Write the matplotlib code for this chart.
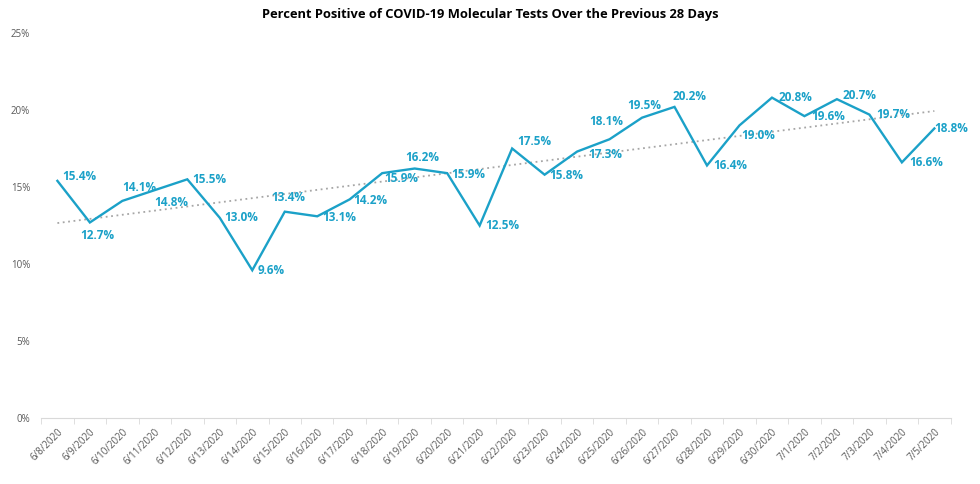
import numpy as np
import matplotlib.pyplot as plt
from matplotlib.ticker import FuncFormatter

plt.rcParams['font.family'] = ['Open Sans', 'DejaVu Sans']

# data
dates = ['6/8/2020', '6/9/2020', '6/10/2020', '6/11/2020', '6/12/2020', '6/13/2020',
         '6/14/2020', '6/15/2020', '6/16/2020', '6/17/2020', '6/18/2020', '6/19/2020',
         '6/20/2020', '6/21/2020', '6/22/2020', '6/23/2020', '6/24/2020', '6/25/2020',
         '6/26/2020', '6/27/2020', '6/28/2020', '6/29/2020', '6/30/2020', '7/1/2020',
         '7/2/2020', '7/3/2020', '7/4/2020', '7/5/2020']
pct = [15.4, 12.7, 14.1, 14.8, 15.5, 13.0, 9.6, 13.4, 13.1, 14.2, 15.9, 16.2, 15.9, 12.5,
       17.5, 15.8, 17.3, 18.1, 19.5, 20.2, 16.4, 19.0, 20.8, 19.6, 20.7, 19.7, 16.6, 18.8]

# data label offsets (pixels from the point to the label centre)
lab_dx = [22, 7, 17, 16, 22, 21, 19, 4, 22, 21, 19, 8, 21, 23,
          22, 22, 28, -3, 2, 15, 23, 19, 23, 24, 23, 24, 24, 17]
lab_dy = [4, -13, 13, -12, 0, 0, 0, 14, -1, -1, -5, 11, -1, 0,
          7, -1, -3, 18, 12, 10, 0, -10, 0, 0, 4, 0, 0, 0]

blue = '#1BA1C8'
x = np.arange(len(dates))

fig = plt.figure(figsize=(9.8, 4.84), dpi=100)
ax = fig.add_axes([0.042, 0.136, 0.928, 0.796])

ax.plot(x, pct, color=blue, lw=1.7, solid_joinstyle='miter', zorder=3)

# linear trendline
k, b = np.polyfit(x, pct, 1)
ax.plot(x, k * x + b, color='#a6a6a6', lw=1.3, ls=(0, (1, 2)), zorder=2)

for xi, yi, dx, dy in zip(x, pct, lab_dx, lab_dy):
    ax.annotate(f'{yi:.1f}%', (xi, yi), xytext=(dx, dy), textcoords='offset pixels',
                ha='center', va='center', color=blue, fontsize=8.5,
                fontweight='bold', zorder=4)

ax.set_xlim(-0.5, len(dates) - 0.5)
ax.set_ylim(0, 25)
ax.set_yticks([0, 5, 10, 15, 20, 25])
ax.yaxis.set_major_formatter(FuncFormatter(lambda v, _: f'{v:.0f}%'))
ax.set_xticks(x)
ax.set_xticklabels(dates, rotation=45, ha='right', rotation_mode='anchor')
ax.set_xticks(np.arange(-0.5, len(dates)), minor=True)

ax.tick_params(axis='y', length=0, labelsize=7, labelcolor='#595959', pad=8)
ax.tick_params(axis='x', which='major', length=0, labelsize=7, labelcolor='#595959', pad=6)
ax.tick_params(axis='x', which='minor', length=4, color='#d9d9d9', direction='out')

for s in ['top', 'right', 'left']:
    ax.spines[s].set_visible(False)
ax.spines['bottom'].set_color('#d9d9d9')

fig.text(0.5, 0.97, 'Percent Positive of COVID-19 Molecular Tests Over the Previous 28 Days',
         ha='center', va='center', fontsize=9.3, fontweight='bold', color='black')

fig.savefig('out.png', dpi=100)
